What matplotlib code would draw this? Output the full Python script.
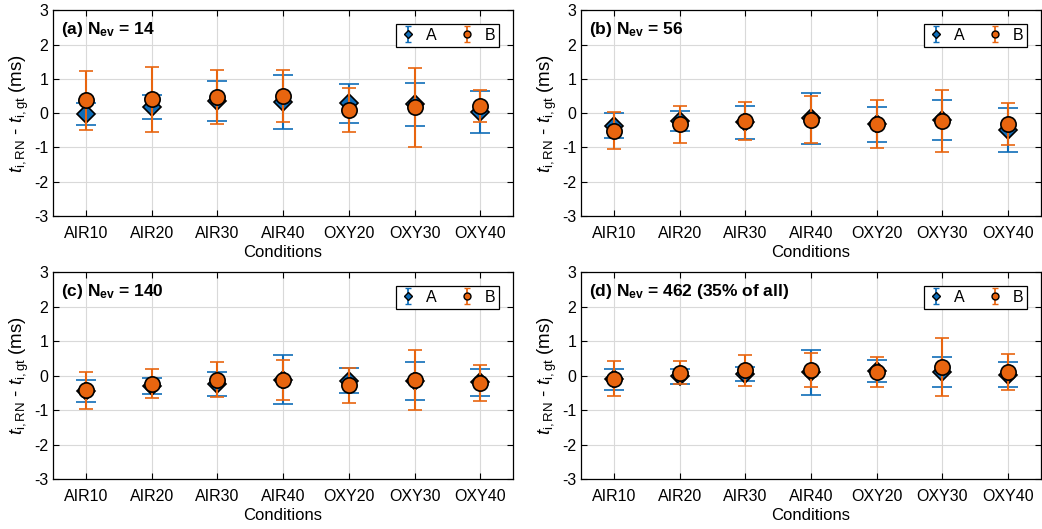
import numpy as np
import matplotlib.pyplot as plt
from matplotlib.ticker import MultipleLocator

plt.rcParams['font.family'] = ['Liberation Sans', 'DejaVu Sans']
plt.rcParams['mathtext.fontset'] = 'custom'
plt.rcParams['mathtext.rm'] = 'Liberation Sans'
plt.rcParams['mathtext.it'] = 'Liberation Sans:italic'
plt.rcParams['axes.unicode_minus'] = False

conditions = ['AIR10', 'AIR20', 'AIR30', 'AIR40', 'OXY20', 'OXY30', 'OXY40']
titles = [r'(a) N$_{\mathregular{ev}}$ = 14', r'(b) N$_{\mathregular{ev}}$ = 56',
          r'(c) N$_{\mathregular{ev}}$ = 140', r'(d) N$_{\mathregular{ev}}$ = 462 (35% of all)']

# mean and std of t_RN - t_gt (ms), method A and B, per panel
a_mean = [[-0.03, 0.18, 0.36, 0.32, 0.28, 0.26, 0.04],
          [-0.37, -0.23, -0.27, -0.15, -0.33, -0.20, -0.49],
          [-0.46, -0.30, -0.24, -0.12, -0.15, -0.17, -0.20],
          [-0.11, -0.02, 0.04, 0.09, 0.12, 0.10, 0.03]]
a_std = [[0.33, 0.35, 0.58, 0.78, 0.56, 0.63, 0.61],
         [0.37, 0.28, 0.48, 0.75, 0.50, 0.57, 0.63],
         [0.32, 0.22, 0.34, 0.71, 0.36, 0.55, 0.38],
         [0.30, 0.21, 0.20, 0.65, 0.32, 0.44, 0.35]]
b_mean = [[0.38, 0.40, 0.47, 0.50, 0.09, 0.17, 0.21],
          [-0.51, -0.33, -0.22, -0.19, -0.33, -0.23, -0.32],
          [-0.43, -0.23, -0.12, -0.12, -0.28, -0.12, -0.22],
          [-0.09, 0.08, 0.15, 0.16, 0.11, 0.25, 0.10]]
b_std = [[0.86, 0.95, 0.79, 0.77, 0.64, 1.15, 0.46],
         [0.54, 0.54, 0.55, 0.68, 0.70, 0.89, 0.60],
         [0.53, 0.43, 0.50, 0.58, 0.51, 0.87, 0.52],
         [0.50, 0.33, 0.44, 0.50, 0.43, 0.84, 0.53]]

blue = '#0F6DB8'
orange = '#E8650F'

fig = plt.figure(figsize=(10.42, 5.29), dpi=100)
positions = [[0.0509, 0.5917, 0.4415, 0.389], [0.5576, 0.5917, 0.4415, 0.389],
             [0.0509, 0.0945, 0.4415, 0.391], [0.5576, 0.0945, 0.4415, 0.391]]

x = np.arange(1, len(conditions) + 1)
for i in range(4):
    ax = fig.add_axes(positions[i])
    ax.errorbar(x, a_mean[i], yerr=a_std[i], fmt='D', color=blue, mfc=blue, mec='k',
                mew=1.2, ms=9, capsize=7, elinewidth=1.5, capthick=1.5, zorder=3)
    ax.errorbar(x, b_mean[i], yerr=b_std[i], fmt='o', color=orange, mfc=orange, mec='k',
                mew=1.2, ms=11, capsize=5, elinewidth=1.5, capthick=1.5, zorder=4)
    # small proxies for the legend (outside the visible range)
    ha = ax.errorbar([-10], [0], yerr=[1], fmt='D', color=blue, mfc=blue, mec='k',
                     mew=1, ms=4, capsize=2.5, elinewidth=1.3, capthick=1.3, label='A')
    hb = ax.errorbar([-10], [0], yerr=[1], fmt='o', color=orange, mfc=orange, mec='k',
                     mew=1, ms=5, capsize=2.5, elinewidth=1.3, capthick=1.3, label='B')
    ax.set_xlim(0.5, 7.5)
    ax.set_ylim(-3, 3)
    ax.set_xticks(x)
    ax.set_xticklabels(conditions)
    ax.yaxis.set_major_locator(MultipleLocator(1))
    ax.tick_params(direction='in', top=True, right=True, labelsize=11.5, length=4, width=0.8)
    ax.tick_params(axis='x', pad=7)
    ax.grid(True, color='#d9d9d9', lw=0.8)
    ax.set_axisbelow(True)
    for s in ax.spines.values():
        s.set_linewidth(0.9)
    ax.set_xlabel('Conditions', fontsize=12, labelpad=3)
    ax.set_ylabel(r'$t_{\mathrm{i,RN}}$ - $t_{\mathrm{i,gt}}$ (ms)', fontsize=13.5, labelpad=2)
    ax.text(0.017, 0.905, titles[i], transform=ax.transAxes, fontsize=12.5,
            fontweight='bold', va='center', ha='left')
    leg = ax.legend(handles=[ha, hb], loc='upper right', ncol=2, fontsize=11.5,
                    handlelength=1.0, columnspacing=1.4,
                    handletextpad=0.6, borderpad=0.25, fancybox=False,
                    framealpha=1, edgecolor='k', bbox_to_anchor=(0.987, 0.972))
    leg.get_frame().set_linewidth(0.9)

fig.savefig('out.png', dpi=100)
